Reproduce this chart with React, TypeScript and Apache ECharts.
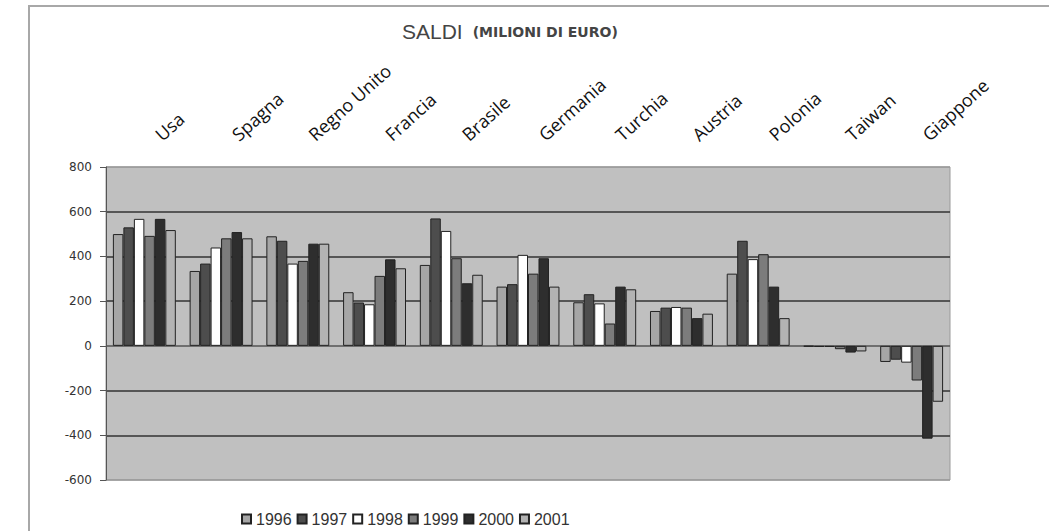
import React, { useEffect, useRef } from "react";
import * as echarts from "echarts";

const categories = ["Usa", "Spagna", "Regno Unito", "Francia", "Brasile", "Germania", "Turchia", "Austria", "Polonia", "Taiwan", "Giappone"];
const years = ["1996", "1997", "1998", "1999", "2000", "2001"];
const v1996 = [500, 335, 490, 240, 362, 265, 195, 156, 323, -3, -72];
const v1997 = [530, 368, 470, 194, 570, 276, 231, 171, 470, -5, -62];
const v1998 = [568, 440, 368, 186, 514, 407, 190, 174, 388, -5, -75];
const v1999 = [492, 481, 380, 313, 392, 323, 100, 171, 410, -15, -155];
const v2000 = [568, 509, 457, 387, 280, 392, 265, 124, 265, -30, -415];
const v2001 = [518, 481, 457, 347, 318, 265, 253, 144, 124, -25, -250];
const yearValues = [v1996, v1997, v1998, v1999, v2000, v2001];
const yearColors = ["#a6a6a6", "#4d4d4d", "#ffffff", "#7c7c7c", "#2e2e2e", "#b3b3b3"];

export default function App() {
  const ref = useRef<HTMLDivElement>(null);
  useEffect(() => {
    if (!ref.current) return;
    const chart = echarts.init(ref.current, null, { renderer: "svg" });
    chart.setOption({
      animation: false,
      backgroundColor: "#ffffff",
      title: {
        text: "{a|SALDI}  {b|(MILIONI DI EURO)}",
        left: 397,
        top: 16,
        textStyle: {
          rich: {
            a: { fontSize: 21, color: "#444", fontFamily: "Liberation Sans", fontWeight: "normal" },
            b: { fontSize: 14, color: "#444", fontFamily: "DejaVu Sans", fontWeight: "bold" },
          },
        },
      },
      graphic: [
        {
          type: "polyline",
          shape: { points: [[29, 531], [29, 6], [1049, 6]] },
          style: { stroke: "#a8a8a8", lineWidth: 2, fill: "none" },
          silent: true,
        },
      ],
      legend: {
        top: 506,
        left: 236,
        itemWidth: 9,
        itemHeight: 9,
        itemGap: 5,
        icon: "rect",
        textStyle: { fontSize: 16, color: "#333", fontFamily: "Liberation Sans" },
        data: years,
      },
      grid: {
        left: 106,
        right: 99,
        top: 167,
        bottom: 51,
        show: true,
        backgroundColor: "#c0c0c0",
        borderColor: "#9a9a9a",
        borderWidth: 1,
      },
      xAxis: {
        type: "category",
        position: "top",
        data: categories,
        axisLine: { show: false },
        axisTick: { show: false },
        axisLabel: {
          interval: 0,
          rotate: 42,
          margin: 18,
          padding: [0, 0, 0, 18],
          fontSize: 18,
          color: "#111",
          fontFamily: "Open Sans",
        },
      },
      yAxis: {
        type: "value",
        min: -600,
        max: 800,
        interval: 200,
        axisLine: { show: true, lineStyle: { color: "#555", width: 1 } },
        axisTick: { show: true, length: 6, lineStyle: { color: "#555" } },
        axisLabel: { fontSize: 12, color: "#333", margin: 14, fontFamily: "DejaVu Sans" },
        splitLine: {
          show: true,
          lineStyle: { color: ["#9a9a9a", "#333", "#333", "#555", "#333", "#333", "#333", "#9a9a9a"], width: 1.5 },
        },
      },
      series: years.map((y, i) => ({
        name: y,
        type: "bar",
        data: yearValues[i],
        barGap: "0%",
        barCategoryGap: "18%",
        itemStyle: { color: yearColors[i], borderColor: "#222", borderWidth: 1 },
      })),
    });
    return () => chart.dispose();
  }, []);
  return <div ref={ref} style={{ position: "fixed", left: 0, top: 0, width: 1049, height: 531 }} />;
}
